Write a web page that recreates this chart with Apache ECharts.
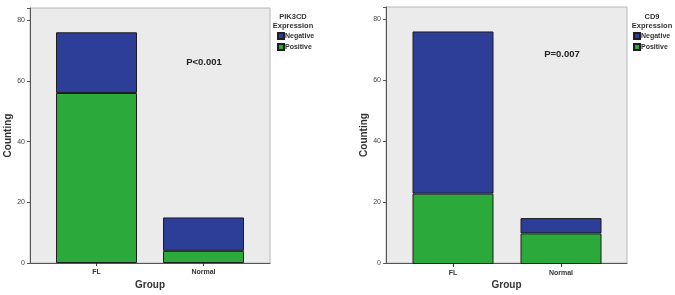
<!DOCTYPE html>
<html><head><meta charset="utf-8">
<script src="https://cdn.jsdelivr.net/npm/echarts@6/dist/echarts.min.js"></script>
<style>html,body{margin:0;padding:0;background:#fff}#c{width:675px;height:295px}</style>
</head><body><div id="c"></div>
<script>
const categories = ['FL', 'Normal'];
const pik3cdPositive = [56, 4];
const pik3cdNegative = [20, 11];
const cd9Positive = [23, 10];
const cd9Negative = [53, 5];
const yTicks = [0, 20, 40, 60, 80];
const legendNames = ['Negative', 'Positive'];

const BLUE = '#2d3e98', GREEN = '#2baa3b', BG = '#ebebeb';
const chart = echarts.init(document.getElementById('c'), null, {renderer: 'canvas'});

const panels = [
  {box: {left: 30, width: 240, top: 8, height: 255}, inner: {left: 43, width: 214, top: 8, height: 255}, pos: pik3cdPositive, neg: pik3cdNegative},
  {box: {left: 386, width: 241, top: 7, height: 257}, inner: {left: 399, width: 216, top: 7, height: 257}, pos: cd9Positive, neg: cd9Negative}
];

const grid = [], xAxis = [], yAxis = [], series = [];
panels.forEach((p, i) => {
  grid.push(Object.assign({show: true, backgroundColor: BG, borderColor: '#b8b8b8', borderWidth: 1}, p.box));
  grid.push(Object.assign({show: false}, p.inner));
  const gBox = i * 2, gIn = i * 2 + 1;
  xAxis.push({gridIndex: gBox, type: 'category', data: categories, axisLabel: {show: false}, axisTick: {show: false},
    axisLine: {lineStyle: {color: '#555', width: 1}},
    name: 'Group', nameLocation: 'middle', nameGap: 17,
    nameTextStyle: {fontFamily: 'Liberation Sans', fontWeight: 'bold', fontSize: 10, color: '#333'}});
  xAxis.push({gridIndex: gIn, type: 'category', data: categories, axisLine: {show: false},
    axisTick: {show: true, alignWithLabel: true, length: 3, lineStyle: {color: '#333'}},
    axisLabel: {fontFamily: 'Liberation Sans', fontWeight: 'bold', fontSize: 7, color: '#333', margin: 6}});
  yAxis.push({gridIndex: gBox, type: 'value', min: 0, max: 84, interval: 20,
    axisLine: {show: true, lineStyle: {color: '#555'}}, axisTick: {show: true, length: 3, lineStyle: {color: '#555'}},
    splitLine: {show: false},
    axisLabel: {fontFamily: 'Liberation Sans', fontSize: 7, color: '#444', margin: 5,
      formatter: v => yTicks.includes(v) ? String(v) : ''},
    name: 'Counting', nameLocation: 'middle', nameGap: 14,
    nameTextStyle: {fontFamily: 'Liberation Sans', fontWeight: 'bold', fontSize: 10, color: '#333'}});
  yAxis.push({gridIndex: gIn, type: 'value', min: 0, max: 84, show: false});
  const st = {borderColor: '#1e1e1e', borderWidth: 1};
  series.push({name: 'Positive', type: 'bar', stack: 's' + i, xAxisIndex: gIn, yAxisIndex: gIn, barWidth: 81,
    data: p.pos, itemStyle: Object.assign({color: GREEN}, st), animation: false});
  series.push({name: 'Negative', type: 'bar', stack: 's' + i, xAxisIndex: gIn, yAxisIndex: gIn, barWidth: 81,
    data: p.neg, itemStyle: Object.assign({color: BLUE}, st), animation: false});
});

const legendCommon = {orient: 'vertical', data: legendNames, itemWidth: 6, itemHeight: 6, itemGap: 3, padding: 0,
  icon: 'rect', selectedMode: false,
  textStyle: {fontFamily: 'Liberation Sans', fontWeight: 'bold', fontSize: 7, color: '#333', padding: [0, 0, 0, -4]}};

chart.setOption({
  animation: false,
  grid, xAxis, yAxis, series,
  legend: [
    Object.assign({left: 277, top: 32}, legendCommon),
    Object.assign({left: 633, top: 32}, legendCommon)
  ],
  graphic: [
    {type: 'text', x: 293, y: 12, style: {text: 'PIK3CD\nExpression', align: 'center', verticalAlign: 'top', fontFamily: 'Liberation Sans', fontWeight: 'bold', fontSize: 7.5, lineHeight: 9, fill: '#333'}},
    {type: 'text', x: 652, y: 12, style: {text: 'CD9\nExpression', align: 'center', verticalAlign: 'top', fontFamily: 'Liberation Sans', fontWeight: 'bold', fontSize: 7.5, lineHeight: 9, fill: '#333'}},
    {type: 'text', x: 204, y: 62, style: {text: 'P<0.001', align: 'center', verticalAlign: 'middle', fontFamily: 'Liberation Sans', fontWeight: 'bold', fontSize: 9.5, fill: '#222'}},
    {type: 'text', x: 562, y: 54, style: {text: 'P=0.007', align: 'center', verticalAlign: 'middle', fontFamily: 'Liberation Sans', fontWeight: 'bold', fontSize: 9.5, fill: '#222'}}
  ]
});
</script></body></html>
